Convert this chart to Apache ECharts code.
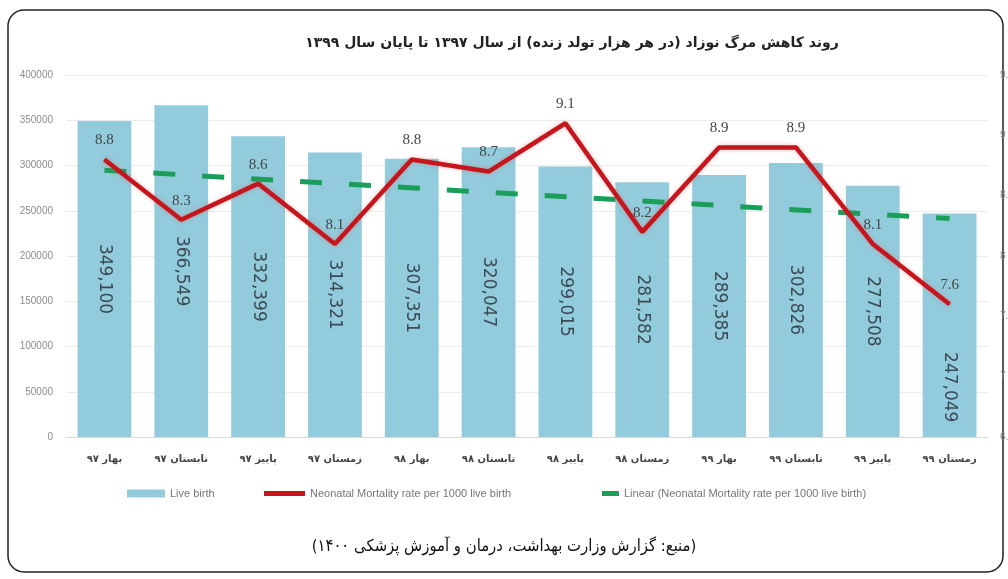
<!DOCTYPE html>
<html>
<head>
<meta charset="utf-8">
<script src="https://cdn.jsdelivr.net/npm/echarts@6/dist/echarts.min.js"></script>
<style>
html,body{margin:0;padding:0;background:#fff;}
#c{width:1008px;height:579px;}
</style>
</head>
<body>
<div id="c"></div>
<script>
const categories = ['بهار ۹۷','تابستان ۹۷','پاییز ۹۷','زمستان ۹۷','بهار ۹۸','تابستان ۹۸','پاییز ۹۸','زمستان ۹۸','بهار ۹۹','تابستان ۹۹','پاییز ۹۹','زمستان ۹۹'];
const liveBirths = [349100, 366549, 332399, 314321, 307351, 320047, 299015, 281582, 289385, 302826, 277508, 247049];
const mortality = [8.8, 8.3, 8.6, 8.1, 8.8, 8.7, 9.1, 8.2, 8.9, 8.9, 8.1, 7.6];
const trendEnds = [8.71, 8.31];
const titleText = 'روند کاهش مرگ نوزاد (در هر هزار تولد زنده) از سال ۱۳۹۷ تا پایان سال ۱۳۹۹';
const captionText = '\u200F(منبع: گزارش وزارت بهداشت، درمان و آموزش پزشکی ۱۴۰۰)\u200F';
const nameBirth = 'Live birth';
const nameRate = 'Neonatal Mortality rate per 1000 live birth';
const nameTrend = 'Linear (Neonatal Mortality rate per 1000 live birth)';

const chart = echarts.init(document.getElementById('c'), null, {renderer:'canvas'});
const fa = '"DejaVu Sans", sans-serif';
const legendText = {fontSize: 11, color: '#777', fontFamily: 'Liberation Sans, sans-serif'};

const barData = liveBirths.map((v, i) => i === liveBirths.length - 1
  ? {value: v, label: {offset: [62, 0]}} : v);

chart.setOption({
  animation: false,
  backgroundColor: '#fff',
  title: {
    text: titleText, left: 567, top: 31, textAlign: 'center',
    textStyle: {fontFamily: fa, fontSize: 14, fontWeight: 'bold', color: '#222'}
  },
  legend: [
    {left: 122, top: 483, itemWidth: 38, itemHeight: 8, textStyle: legendText,
     data: [{name: nameBirth, icon: 'rect'}]},
    {left: 259, top: 483, itemWidth: 41, itemHeight: 5, textStyle: legendText,
     data: [{name: nameRate, icon: 'rect'}]},
    {left: 597, top: 483, itemWidth: 17, itemHeight: 5, textStyle: legendText,
     data: [{name: nameTrend, icon: 'rect'}]}
  ],
  grid: {left: 66, right: 20, top: 75, bottom: 142, outerBoundsMode: 'none', containLabel: false},
  xAxis: {
    type: 'category', data: categories,
    axisLine: {show: true, lineStyle: {color: '#d9d9d9'}},
    axisTick: {show: false},
    axisLabel: {margin: 17, fontFamily: fa, fontSize: 10, fontWeight: 'bold', color: '#444'}
  },
  yAxis: [
    {type: 'value', min: 0, max: 400000, interval: 50000,
     axisLine: {show: false}, axisTick: {show: false},
     axisLabel: {margin: 13, fontSize: 10, color: '#8c8c8c', fontFamily: 'Liberation Sans, sans-serif',
       formatter: v => String(v)},
     splitLine: {lineStyle: {color: '#ececec'}}},
    {type: 'value', min: 6.5, max: 9.5, interval: 0.5, position: 'right',
     axisLine: {show: false}, axisTick: {show: false},
     axisLabel: {margin: 12, fontSize: 10, color: '#8c8c8c', fontFamily: 'Liberation Sans, sans-serif'},
     splitLine: {show: false}}
  ],
  series: [
    {name: nameBirth, type: 'bar', data: barData, barCategoryGap: '30%',
     itemStyle: {color: '#92cbdb'}, z: 1,
     label: {show: true, position: 'inside', rotate: -90,
       formatter: p => Number(p.value).toLocaleString('en-US'),
       fontFamily: 'DejaVu Sans, sans-serif', fontSize: 17, color: '#3b4a55'}},
    {name: nameTrend, type: 'line', yAxisIndex: 1,
     data: [[0, trendEnds[0]], [categories.length - 1, trendEnds[1]]],
     symbol: 'none', z: 3,
     itemStyle: {color: '#1c9e5b'},
     lineStyle: {color: '#1c9e5b', width: 5, type: [22, 27]}},
    {name: nameRate, type: 'line', yAxisIndex: 1, data: mortality,
     symbol: 'circle', symbolSize: 1, showSymbol: true, z: 4,
     itemStyle: {color: '#c4161c'},
     lineStyle: {color: '#c4161c', width: 4.5, shadowColor: 'rgba(255,60,60,0.35)', shadowBlur: 4},
     label: {show: true, position: 'top', distance: 11,
       fontFamily: 'Liberation Serif, serif', fontSize: 15, color: '#454545'}}
  ],
  graphic: [
    {type: 'rect', shape: {x: 8, y: 10, width: 995, height: 562, r: 16},
     style: {fill: null, stroke: '#222', lineWidth: 1.5}, silent: true},
    {type: 'text', left: 'center', top: 538,
     style: {text: captionText, fontFamily: '"DejaVu Sans Condensed", "DejaVu Sans", sans-serif', fontSize: 16.5, fill: '#111'}}
  ]
});
</script>
</body>
</html>
